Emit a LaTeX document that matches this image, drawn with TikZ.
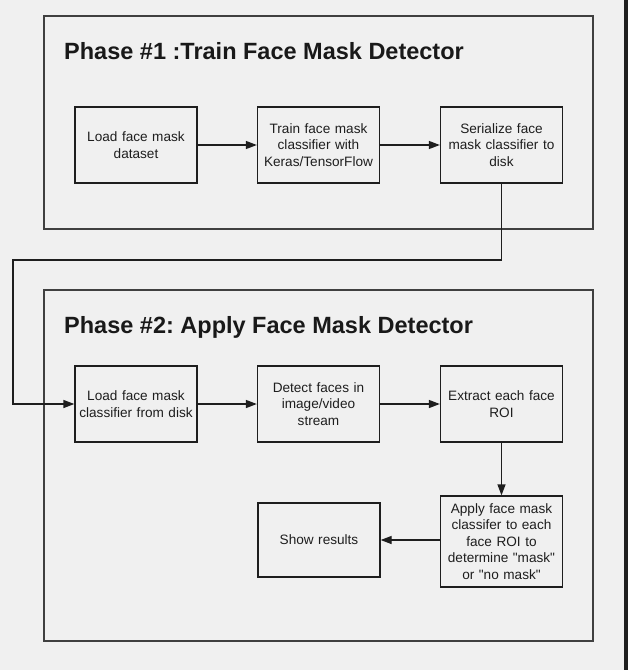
\documentclass[tikz,border=0pt]{standalone}
\usepackage{fontspec}
\setmainfont{Liberation Sans}[Ligatures=TeXOff]
\usetikzlibrary{arrows.meta}
\definecolor{bg}{HTML}{F0F0F0}
\definecolor{ln}{HTML}{1E1E1E}
\begin{document}
\frenchspacing
\begin{tikzpicture}[x=1pt,y=-1pt,
  stepbox/.style={draw=ln,line width=1.3pt,minimum width=122pt,minimum height=76pt,
    text width=120pt,align=center,inner sep=0pt,
    font=\fontsize{13.6}{16.4}\selectfont,text=ln},
  frame/.style={draw=ln!85,line width=1.5pt},
  title/.style={anchor=base west,inner sep=0pt,font=\fontsize{23.5}{28}\selectfont\bfseries,text=black!90},
  conn/.style={draw=ln,line width=1.3pt,-{Triangle[length=11pt,width=8pt]}}]
\fill[bg] (0,0) rectangle (628,670);
\fill[black!88] (624,0) rectangle (628,670);
\useasboundingbox (0,0) rectangle (628,670);
\draw[frame] (44,16) rectangle (593,229);
\draw[frame] (44,290) rectangle (593,641);
\node[title] (t1) at (64,59) {Phase \#1 :Train Face Mask Detector};
\node[title] (t2) at (64,333) {Phase \#2: Apply Face Mask Detector};
\node[stepbox] (a1) at (136,145) {Load face mask\\dataset};
\node[stepbox] (a2) at (318.5,145) {Train face mask\\classifier with\\Keras/TensorFlow};
\node[stepbox] (a3) at (501.5,145) {Serialize face\\mask classifier to\\disk};
\node[stepbox] (b1) at (136,404) {Load face mask\\classifier from disk};
\node[stepbox] (b2) at (318.5,404) {Detect faces in\\image/video\\stream};
\node[stepbox] (b3) at (501.5,404) {Extract each face\\ROI};
\node[stepbox,minimum height=91pt] (b4) at (501.5,541.5) {Apply face mask\\classifer to each\\face ROI to\\determine "mask"\\or "no mask"};
\node[stepbox,minimum height=74pt] (b5) at (319,540) {Show results};
\coordinate (c1) at (501.5,260);
\coordinate (c2) at (13,260);
\draw[conn] (a1) -- (a2);
\draw[conn] (a2) -- (a3);
\draw[conn] (a3.south) -- (c1) -- (c2) |- (b1.west);
\draw[conn] (b1) -- (b2);
\draw[conn] (b2) -- (b3);
\draw[conn] (b3) -- (b4);
\draw[conn] (b4.west |- b5.east) -- (b5.east);
\end{tikzpicture}
\end{document}
